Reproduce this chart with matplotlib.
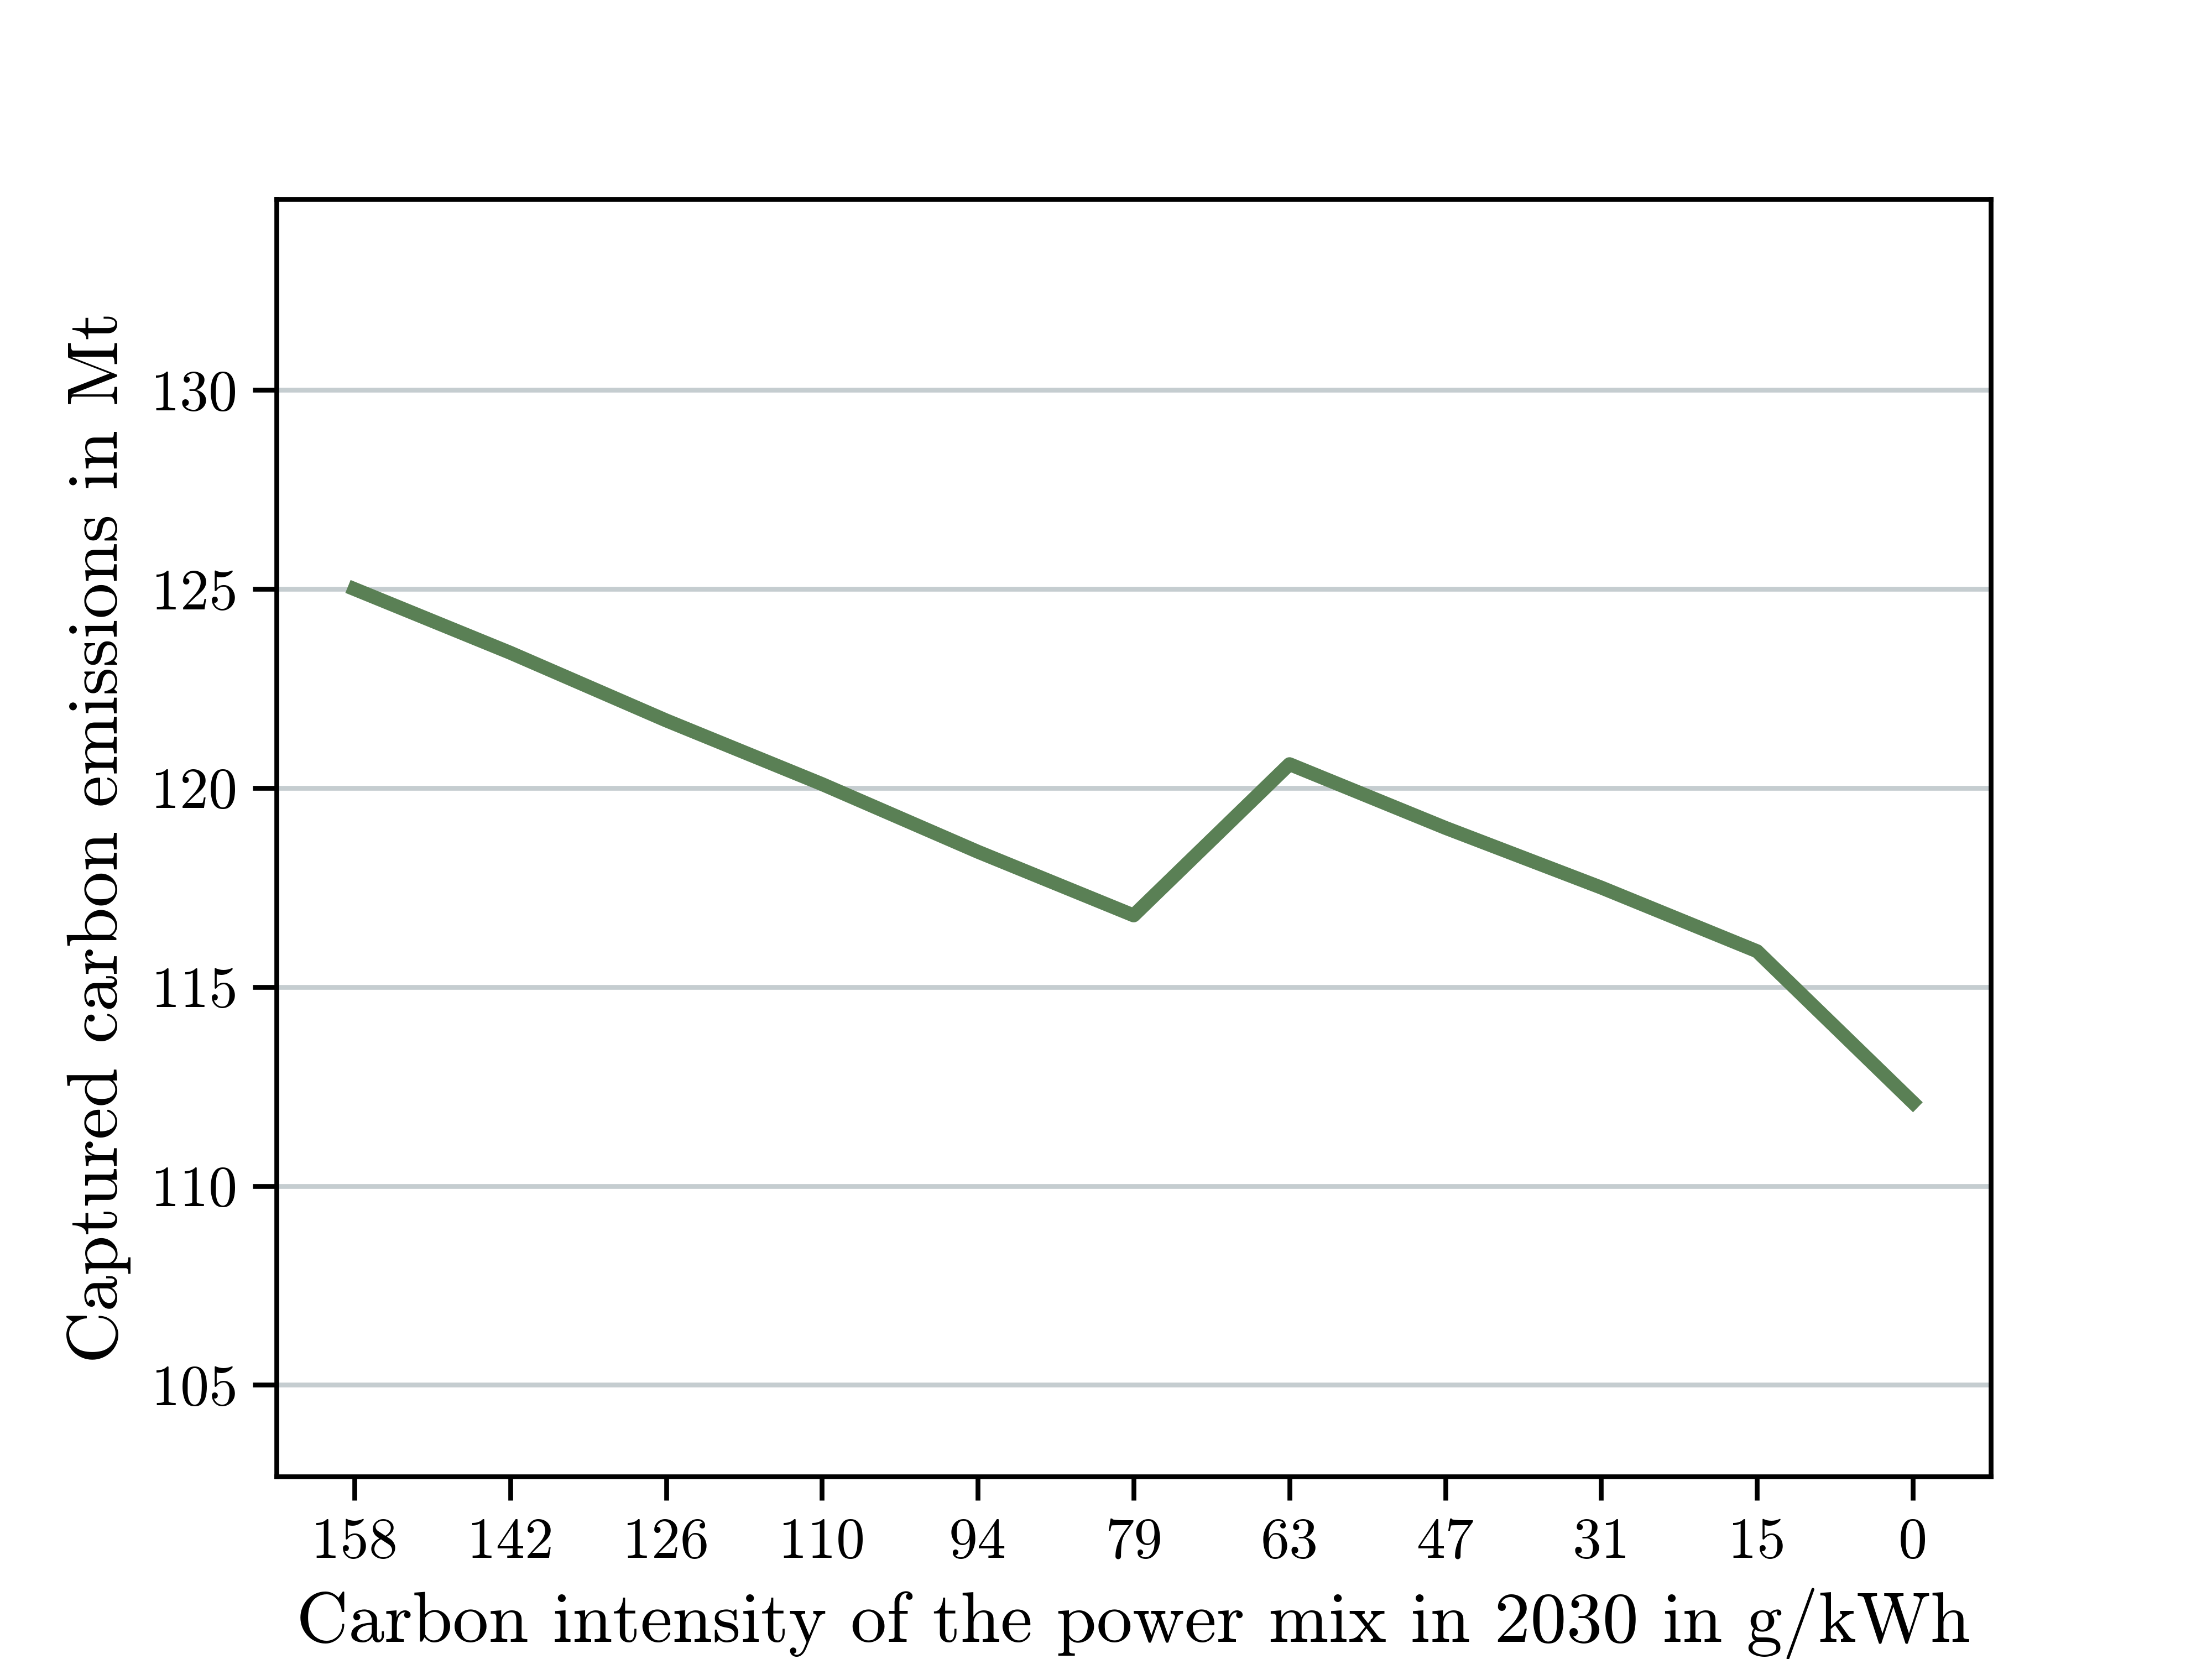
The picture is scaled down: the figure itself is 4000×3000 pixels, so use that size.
import matplotlib.pyplot as plt

# Carbon intensity categories (g/kWh) and captured emissions (Mt)
intensity = ['158', '142', '126', '110', '94', '79', '63', '47', '31', '15', '0']
captured = [125.0, 123.4, 121.7, 120.1, 118.4, 116.8, 120.6, 119.0, 117.5, 115.9, 112.1]

plt.rcParams['font.family'] = ['cmr10', 'DejaVu Serif']
plt.rcParams['axes.formatter.use_mathtext'] = True
plt.rcParams['mathtext.fontset'] = 'cm'

fig, ax = plt.subplots(figsize=(6.4, 4.8), dpi=625)
fig.subplots_adjust(left=0.125, right=0.9, top=0.88, bottom=0.11)

x = list(range(len(intensity)))
ax.plot(x, captured, color='#5a8055', linewidth=2.9, zorder=3)

ax.set_xticks(x)
ax.set_xticklabels(intensity)
ax.set_yticks([105, 110, 115, 120, 125, 130])
ax.set_xlim(-0.5, 10.5)
ax.set_ylim(102.7, 134.8)
ax.yaxis.grid(True, color='#c5cdd0', linewidth=1.0)
ax.set_axisbelow(True)
ax.tick_params(labelsize=12, length=5, width=1)
for s in ax.spines.values():
    s.set_linewidth(1)

ax.set_xlabel('Carbon intensity of the power mix in 2030 in g/kWh', fontsize=15)
ax.set_ylabel('Captured carbon emissions in Mt', fontsize=15)

plt.savefig('out.png')
